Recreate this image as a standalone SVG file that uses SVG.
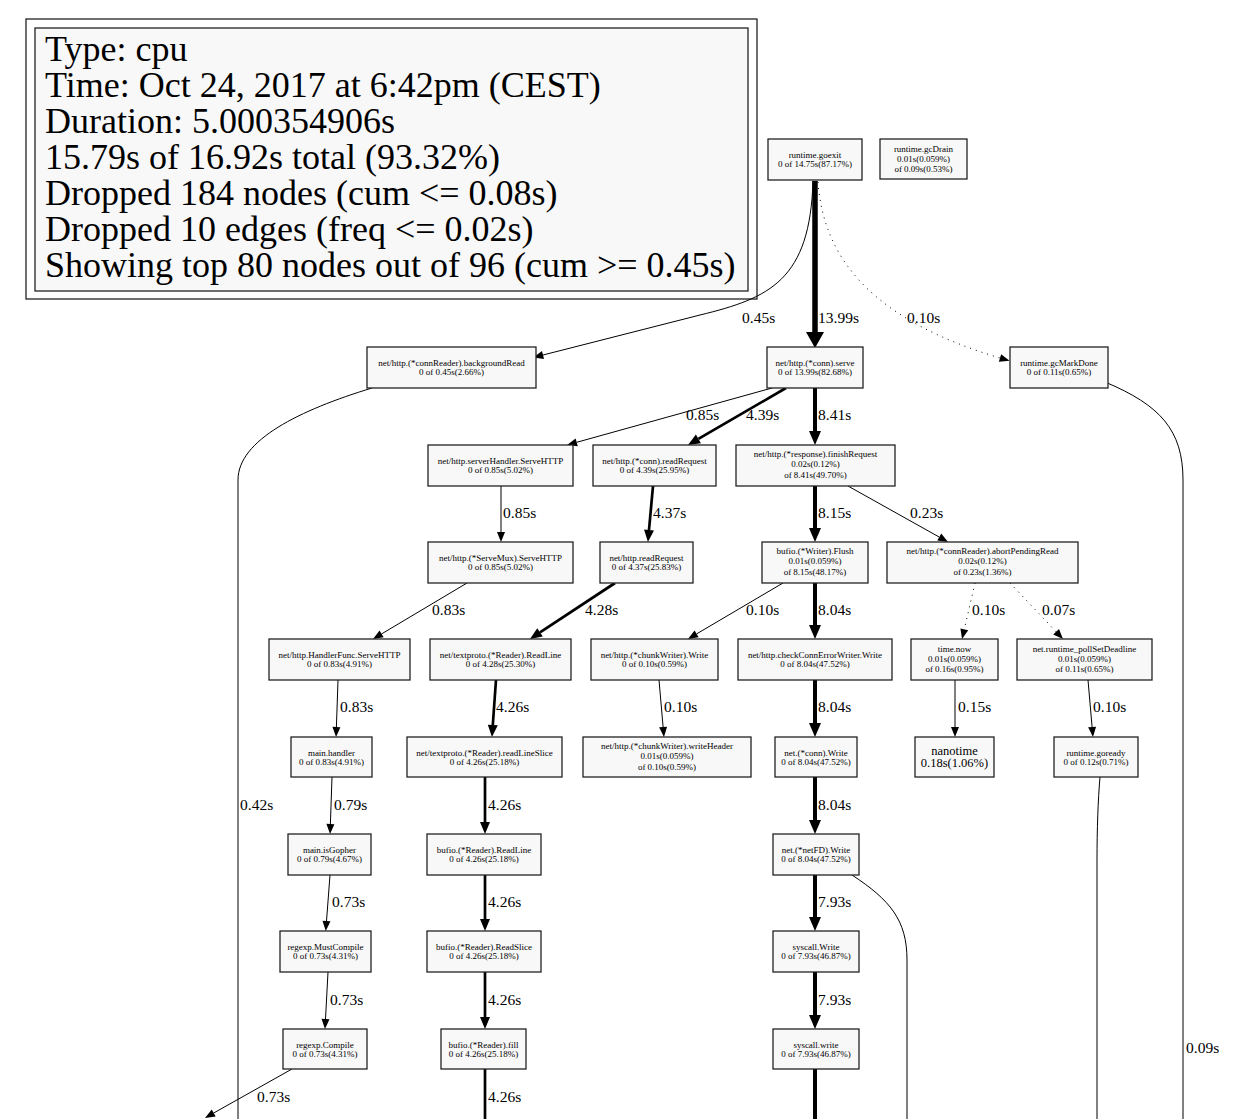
<svg xmlns="http://www.w3.org/2000/svg" width="1237" height="1119" viewBox="0 0 1237 1119">
  <style>
    .node rect { fill:#f8f8f8; stroke:#222; stroke-width:1.3; }
    .node text { font-family:"Liberation Serif", "Times New Roman", serif; font-size:9px; text-anchor:middle; fill:#000; }
    .node text.big { font-size:12.5px; }
    .legend text { font-family:"Liberation Serif", "Times New Roman", serif; font-size:36px; fill:#000; }
    .edges path { fill:none; stroke:#000; }
    .edges .w1 { stroke-width:1; }
    .edges .w3 { stroke-width:2.7; }
    .edges .w4 { stroke-width:4; }
    .edges .w5 { stroke-width:5.5; }
    .edges .dot { stroke-width:1; stroke-dasharray:1 5; }
    .lbl { font-family:"Liberation Serif", "Times New Roman", serif; font-size:15.5px; fill:#000; }
  </style>
  <defs>
    <marker id="a1" markerUnits="userSpaceOnUse" markerWidth="10" markerHeight="8" refX="0" refY="4" orient="auto" overflow="visible">
      <path d="M0,0 L10,4 L0,8 Z" fill="#000"/>
    </marker>
    <marker id="a3" markerUnits="userSpaceOnUse" markerWidth="12" markerHeight="10" refX="0" refY="5" orient="auto" overflow="visible">
      <path d="M0,0 L12,5 L0,10 Z" fill="#000"/>
    </marker>
    <marker id="a4" markerUnits="userSpaceOnUse" markerWidth="14" markerHeight="12" refX="0" refY="6" orient="auto" overflow="visible">
      <path d="M0,0 L14,6 L0,12 Z" fill="#000"/>
    </marker>
    <marker id="a5" markerUnits="userSpaceOnUse" markerWidth="16" markerHeight="18" refX="0" refY="9" orient="auto" overflow="visible">
      <path d="M0,0 L16,9 L0,18 Z" fill="#000"/>
    </marker>
  </defs>

  <rect width="1237" height="1119" fill="#fff"/>

  <!-- profile summary box -->
  <g id="legend" class="legend">
    <rect x="26" y="19" width="731" height="280" fill="#fff" stroke="#222" stroke-width="1.3"/>
    <rect x="35" y="28" width="713" height="263" fill="#f8f8f8" stroke="#222" stroke-width="1.3"/>
    <text x="45" y="61">Type: cpu</text>
    <text x="45" y="97">Time: Oct 24, 2017 at 6:42pm (CEST)</text>
    <text x="45" y="133">Duration: 5.000354906s</text>
    <text x="45" y="169">15.79s of 16.92s total (93.32%)</text>
    <text x="45" y="205">Dropped 184 nodes (cum &lt;= 0.08s)</text>
    <text x="45" y="241">Dropped 10 edges (freq &lt;= 0.02s)</text>
    <text x="45" y="277">Showing top 80 nodes out of 96 (cum &gt;= 0.45s)</text>
  </g>

  <!-- call edges -->
  <g id="edges" class="edges">
    <path class="w1" d="M813,181 C810,280 770,298 700,315 L543,355" marker-end="url(#a1)"/>
    <path class="w5" d="M815,181 L815,332" marker-end="url(#a5)"/>
    <path class="dot" d="M818,182 C824,265 880,322 1000,358" marker-end="url(#a1)"/>
    <path class="w1" d="M372,388 C300,410 238,440 238,480 L238,1119"/>
    <path class="w1" d="M1105,382 C1160,405 1183,430 1183,480 L1183,1119"/>
    <path class="w1" d="M772,388 L576.7,442.3" marker-end="url(#a1)"/>
    <path class="w3" d="M786,388 L698.4,438.9" marker-end="url(#a3)"/>
    <path class="w4" d="M815,388 L815,431" marker-end="url(#a4)"/>
    <path class="w1" d="M501,486 L501,532" marker-end="url(#a1)"/>
    <path class="w3" d="M653,486 L649,530" marker-end="url(#a3)"/>
    <path class="w4" d="M815,486 L815,528" marker-end="url(#a4)"/>
    <path class="w1" d="M848,486 L939.3,537.1" marker-end="url(#a1)"/>
    <path class="w1" d="M467,583 L381.6,633.9" marker-end="url(#a1)"/>
    <path class="w3" d="M615,583 L540,632.4" marker-end="url(#a3)"/>
    <path class="w1" d="M783,583 L696.6,633.9" marker-end="url(#a1)"/>
    <path class="w4" d="M815,583 L815,625" marker-end="url(#a4)"/>
    <path class="dot" d="M975,583 L964.3,629.3" marker-end="url(#a1)"/>
    <path class="dot" d="M1010,583 L1056.1,631.7" marker-end="url(#a1)"/>
    <path class="w1" d="M338,680 L336.4,727" marker-end="url(#a1)"/>
    <path class="w3" d="M496,680 L492.8,725" marker-end="url(#a3)"/>
    <path class="w1" d="M659,680 L663.1,727" marker-end="url(#a1)"/>
    <path class="w4" d="M815,680 L815,723" marker-end="url(#a4)"/>
    <path class="w1" d="M955,680 L955,727" marker-end="url(#a1)"/>
    <path class="w1" d="M1088,680 L1092.1,727" marker-end="url(#a1)"/>
    <path class="w1" d="M332,777 L330.4,824" marker-end="url(#a1)"/>
    <path class="w3" d="M485,777 L485,822" marker-end="url(#a3)"/>
    <path class="w4" d="M815,777 L815,820" marker-end="url(#a4)"/>
    <path class="w1" d="M1100,777 C1098,800 1097,830 1097,860 L1097,1119"/>
    <path class="w1" d="M330,875 L326.5,921" marker-end="url(#a1)"/>
    <path class="w3" d="M485,875 L485,919" marker-end="url(#a3)"/>
    <path class="w4" d="M815,875 L815,917" marker-end="url(#a4)"/>
    <path class="w1" d="M852,875 C890,900 907,920 907,960 L907,1119"/>
    <path class="w1" d="M328,972 L325.5,1019" marker-end="url(#a1)"/>
    <path class="w3" d="M485,972 L485,1017" marker-end="url(#a3)"/>
    <path class="w4" d="M815,972 L815,1015" marker-end="url(#a4)"/>
    <path class="w1" d="M292,1069 L213.7,1113" marker-end="url(#a1)"/>
    <path class="w3" d="M485,1069 L485,1119"/>
    <path class="w4" d="M815,1069 L815,1119"/>

    <text class="lbl" x="742" y="323">0.45s</text>
    <text class="lbl" x="818" y="323">13.99s</text>
    <text class="lbl" x="907" y="323">0.10s</text>
    <text class="lbl" x="686" y="420">0.85s</text>
    <text class="lbl" x="746" y="420">4.39s</text>
    <text class="lbl" x="818" y="420">8.41s</text>
    <text class="lbl" x="503" y="518">0.85s</text>
    <text class="lbl" x="653" y="518">4.37s</text>
    <text class="lbl" x="818" y="518">8.15s</text>
    <text class="lbl" x="910" y="518">0.23s</text>
    <text class="lbl" x="432" y="615">0.83s</text>
    <text class="lbl" x="585" y="615">4.28s</text>
    <text class="lbl" x="746" y="615">0.10s</text>
    <text class="lbl" x="818" y="615">8.04s</text>
    <text class="lbl" x="972" y="615">0.10s</text>
    <text class="lbl" x="1042" y="615">0.07s</text>
    <text class="lbl" x="340" y="712">0.83s</text>
    <text class="lbl" x="496" y="712">4.26s</text>
    <text class="lbl" x="664" y="712">0.10s</text>
    <text class="lbl" x="818" y="712">8.04s</text>
    <text class="lbl" x="958" y="712">0.15s</text>
    <text class="lbl" x="1093" y="712">0.10s</text>
    <text class="lbl" x="240" y="810">0.42s</text>
    <text class="lbl" x="334" y="810">0.79s</text>
    <text class="lbl" x="488" y="810">4.26s</text>
    <text class="lbl" x="818" y="810">8.04s</text>
    <text class="lbl" x="332" y="907">0.73s</text>
    <text class="lbl" x="488" y="907">4.26s</text>
    <text class="lbl" x="818" y="907">7.93s</text>
    <text class="lbl" x="330" y="1005">0.73s</text>
    <text class="lbl" x="488" y="1005">4.26s</text>
    <text class="lbl" x="818" y="1005">7.93s</text>
    <text class="lbl" x="257" y="1102">0.73s</text>
    <text class="lbl" x="488" y="1102">4.26s</text>
    <text class="lbl" x="1186" y="1053">0.09s</text>
  </g>

  <!-- function nodes -->
  <g id="n-goexit" class="node"><rect x="768" y="139" width="94" height="41"/>
    <text x="815" y="158">runtime.goexit</text><text x="815" y="167">0 of 14.75s(87.17%)</text></g>
  <g id="n-gcDrain" class="node"><rect x="880" y="139" width="87" height="40"/>
    <text x="923.5" y="152">runtime.gcDrain</text><text x="923.5" y="162">0.01s(0.059%)</text><text x="923.5" y="172">of 0.09s(0.53%)</text></g>
  <g id="n-backgroundRead" class="node"><rect x="367" y="347" width="169" height="41"/>
    <text x="451.5" y="366">net/http.(*connReader).backgroundRead</text><text x="451.5" y="375">0 of 0.45s(2.66%)</text></g>
  <g id="n-serve" class="node"><rect x="767" y="347" width="96" height="41"/>
    <text x="815" y="366">net/http.(*conn).serve</text><text x="815" y="375">0 of 13.99s(82.68%)</text></g>
  <g id="n-gcMarkDone" class="node"><rect x="1010" y="347" width="98" height="41"/>
    <text x="1059" y="366">runtime.gcMarkDone</text><text x="1059" y="375">0 of 0.11s(0.65%)</text></g>

  <g id="n-serverHandler" class="node"><rect x="428" y="445" width="145" height="41"/>
    <text x="500.5" y="464">net/http.serverHandler.ServeHTTP</text><text x="500.5" y="473">0 of 0.85s(5.02%)</text></g>
  <g id="n-connReadRequest" class="node"><rect x="593" y="445" width="123" height="41"/>
    <text x="654.5" y="464">net/http.(*conn).readRequest</text><text x="654.5" y="473">0 of 4.39s(25.95%)</text></g>
  <g id="n-finishRequest" class="node"><rect x="736" y="445" width="159" height="41"/>
    <text x="815.5" y="457">net/http.(*response).finishRequest</text><text x="815.5" y="467">0.02s(0.12%)</text><text x="815.5" y="478">of 8.41s(49.70%)</text></g>

  <g id="n-ServeMux" class="node"><rect x="428" y="542" width="145" height="41"/>
    <text x="500.5" y="561">net/http.(*ServeMux).ServeHTTP</text><text x="500.5" y="570">0 of 0.85s(5.02%)</text></g>
  <g id="n-readRequest" class="node"><rect x="600" y="542" width="93" height="41"/>
    <text x="646.5" y="561">net/http.readRequest</text><text x="646.5" y="570">0 of 4.37s(25.83%)</text></g>
  <g id="n-Flush" class="node"><rect x="762" y="542" width="106" height="41"/>
    <text x="815" y="554">bufio.(*Writer).Flush</text><text x="815" y="564">0.01s(0.059%)</text><text x="815" y="575">of 8.15s(48.17%)</text></g>
  <g id="n-abortPendingRead" class="node"><rect x="887" y="542" width="191" height="41"/>
    <text x="982.5" y="554">net/http.(*connReader).abortPendingRead</text><text x="982.5" y="564">0.02s(0.12%)</text><text x="982.5" y="575">of 0.23s(1.36%)</text></g>

  <g id="n-HandlerFunc" class="node"><rect x="269" y="639" width="141" height="41"/>
    <text x="339.5" y="658">net/http.HandlerFunc.ServeHTTP</text><text x="339.5" y="667">0 of 0.83s(4.91%)</text></g>
  <g id="n-textprotoReadLine" class="node"><rect x="430" y="639" width="141" height="41"/>
    <text x="500.5" y="658">net/textproto.(*Reader).ReadLine</text><text x="500.5" y="667">0 of 4.28s(25.30%)</text></g>
  <g id="n-chunkWriterWrite" class="node"><rect x="591" y="639" width="127" height="41"/>
    <text x="654.5" y="658">net/http.(*chunkWriter).Write</text><text x="654.5" y="667">0 of 0.10s(0.59%)</text></g>
  <g id="n-checkConnErrorWriter" class="node"><rect x="738" y="639" width="154" height="41"/>
    <text x="815" y="658">net/http.checkConnErrorWriter.Write</text><text x="815" y="667">0 of 8.04s(47.52%)</text></g>
  <g id="n-timeNow" class="node"><rect x="911" y="639" width="87" height="41"/>
    <text x="954.5" y="652">time.now</text><text x="954.5" y="662">0.01s(0.059%)</text><text x="954.5" y="672">of 0.16s(0.95%)</text></g>
  <g id="n-pollSetDeadline" class="node"><rect x="1017" y="639" width="135" height="41"/>
    <text x="1084.5" y="652">net.runtime_pollSetDeadline</text><text x="1084.5" y="662">0.01s(0.059%)</text><text x="1084.5" y="672">of 0.11s(0.65%)</text></g>

  <g id="n-mainHandler" class="node"><rect x="291" y="737" width="81" height="40"/>
    <text x="331.5" y="756">main.handler</text><text x="331.5" y="765">0 of 0.83s(4.91%)</text></g>
  <g id="n-readLineSlice" class="node"><rect x="407" y="737" width="155" height="40"/>
    <text x="484.5" y="756">net/textproto.(*Reader).readLineSlice</text><text x="484.5" y="765">0 of 4.26s(25.18%)</text></g>
  <g id="n-writeHeader" class="node"><rect x="583" y="737" width="168" height="40"/>
    <text x="667" y="749">net/http.(*chunkWriter).writeHeader</text><text x="667" y="759">0.01s(0.059%)</text><text x="667" y="770">of 0.10s(0.59%)</text></g>
  <g id="n-connWrite" class="node"><rect x="775" y="737" width="82" height="40"/>
    <text x="816" y="756">net.(*conn).Write</text><text x="816" y="765">0 of 8.04s(47.52%)</text></g>
  <g id="n-nanotime" class="node"><rect x="915" y="737" width="79" height="40"/>
    <text class="big" x="954.5" y="755">nanotime</text><text class="big" x="954.5" y="767">0.18s(1.06%)</text></g>
  <g id="n-goready" class="node"><rect x="1054" y="737" width="84" height="40"/>
    <text x="1096" y="756">runtime.goready</text><text x="1096" y="765">0 of 0.12s(0.71%)</text></g>

  <g id="n-isGopher" class="node"><rect x="288" y="834" width="83" height="41"/>
    <text x="329.5" y="853">main.isGopher</text><text x="329.5" y="862">0 of 0.79s(4.67%)</text></g>
  <g id="n-bufioReadLine" class="node"><rect x="427" y="834" width="114" height="41"/>
    <text x="484" y="853">bufio.(*Reader).ReadLine</text><text x="484" y="862">0 of 4.26s(25.18%)</text></g>
  <g id="n-netFDWrite" class="node"><rect x="773" y="834" width="86" height="41"/>
    <text x="816" y="853">net.(*netFD).Write</text><text x="816" y="862">0 of 8.04s(47.52%)</text></g>

  <g id="n-MustCompile" class="node"><rect x="280" y="931" width="91" height="41"/>
    <text x="325.5" y="950">regexp.MustCompile</text><text x="325.5" y="959">0 of 0.73s(4.31%)</text></g>
  <g id="n-ReadSlice" class="node"><rect x="427" y="931" width="114" height="41"/>
    <text x="484" y="950">bufio.(*Reader).ReadSlice</text><text x="484" y="959">0 of 4.26s(25.18%)</text></g>
  <g id="n-syscallWrite" class="node"><rect x="773" y="931" width="86" height="41"/>
    <text x="816" y="950">syscall.Write</text><text x="816" y="959">0 of 7.93s(46.87%)</text></g>

  <g id="n-Compile" class="node"><rect x="283" y="1029" width="84" height="40"/>
    <text x="325" y="1048">regexp.Compile</text><text x="325" y="1057">0 of 0.73s(4.31%)</text></g>
  <g id="n-fill" class="node"><rect x="441" y="1029" width="85" height="40"/>
    <text x="483.5" y="1048">bufio.(*Reader).fill</text><text x="483.5" y="1057">0 of 4.26s(25.18%)</text></g>
  <g id="n-syscallwrite" class="node"><rect x="773" y="1029" width="86" height="40"/>
    <text x="816" y="1048">syscall.write</text><text x="816" y="1057">0 of 7.93s(46.87%)</text></g>
</svg>
